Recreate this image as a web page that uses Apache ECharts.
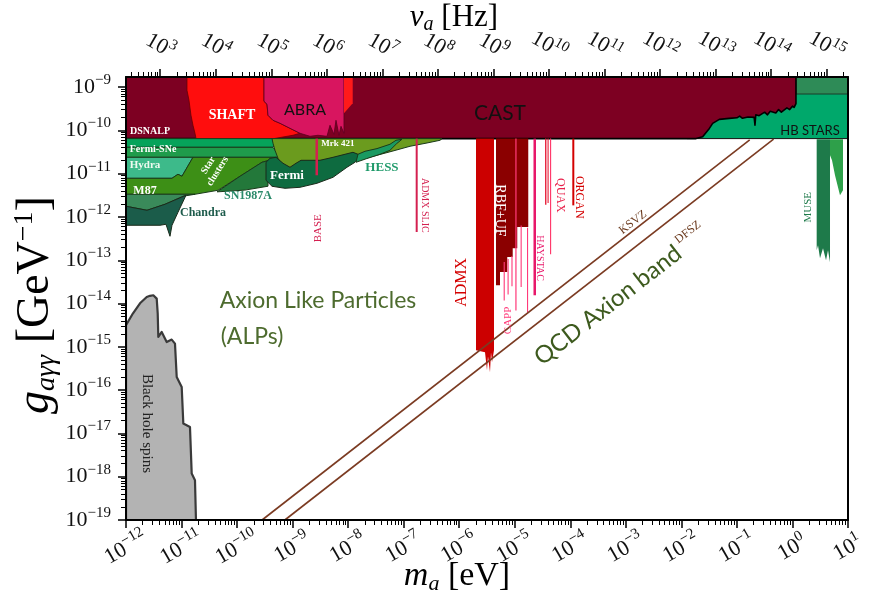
<!DOCTYPE html>
<html>
<head>
<meta charset="utf-8">
<script src="https://cdn.jsdelivr.net/npm/echarts@6/dist/echarts.min.js"></script>
<style>
html,body{margin:0;padding:0;background:#fff}
#chart{width:871px;height:598px}
</style>
</head>
<body>
<div id="chart"></div>
<script>
// Axion-photon coupling limits vs. axion mass.
// All region outlines are stored as [log10(m_a / eV), log10(g / GeV^-1)] pairs.

const H_EV_S = 4.135667696e-15;          // Planck constant, eV s (nu = m / h)
const SERIF = 'Liberation Serif';
const SANS = 'Lato';

// axis ranges (log10)
const massRange = [-12, 1];
const couplingRange = [-19, -8.767];

// tick labels (exponents)
const massTickExp = [-12, -11, -10, -9, -8, -7, -6, -5, -4, -3, -2, -1, 0, 1];
const freqTickExp = [3, 4, 5, 6, 7, 8, 9, 10, 11, 12, 13, 14, 15];
const couplingTickExp = [-19, -18, -17, -16, -15, -14, -13, -12, -11, -10, -9];

// ---- exclusion regions ----
const hbStars = [[-1.9, -8.767], [1, -8.767], [1, -10.19], [-1.9, -10.19]];
const hbStarsUpper = [[0.063, -8.767], [1, -8.767], [1, -9.16], [0.063, -9.16]];
const cast = [[-12, -8.767], [0.063, -8.767], [0.063, -9.38], [0.03, -9.47], [0.0, -9.44], [-0.05, -9.52],
  [-0.1, -9.48], [-0.2, -9.58], [-0.25, -9.52], [-0.3, -9.6], [-0.4, -9.56], [-0.45, -9.64], [-0.5, -9.58],
  [-0.6, -9.66], [-0.66, -9.64], [-0.675, -9.88], [-0.69, -9.7], [-0.8, -9.69], [-0.9, -9.72], [-0.95, -9.67],
  [-1.0, -9.71], [-1.137, -9.723], [-1.317, -9.746], [-1.437, -9.838], [-1.496, -9.954], [-1.617, -10.148],
  [-1.736, -10.19], [-12, -10.19]];
const shaft = [[-10.902, -8.767], [-9.515, -8.767], [-9.515, -9.328], [-9.461, -9.397], [-9.443, -9.651],
  [-9.353, -9.767], [-9.227, -9.836], [-9.047, -9.952], [-8.867, -10.067], [-8.993, -10.113], [-9.407, -10.206],
  [-9.767, -10.252], [-10.127, -10.298], [-10.452, -10.344], [-10.53, -10.2], [-10.578, -10.298],
  [-10.632, -10.367], [-10.668, -10.229], [-10.704, -10.391], [-10.74, -10.183], [-10.758, -10.067],
  [-10.794, -9.882], [-10.83, -9.651], [-10.866, -9.305], [-10.902, -9.074]];
const abra = [[-9.515, -8.767], [-8.075, -8.767], [-8.075, -10.067], [-8.129, -9.906], [-8.165, -10.113],
  [-8.219, -9.767], [-8.255, -10.09], [-8.327, -9.882], [-8.381, -10.137], [-8.543, -10.113], [-8.687, -10.137],
  [-8.867, -10.067], [-9.047, -9.952], [-9.227, -9.836], [-9.353, -9.767], [-9.443, -9.651], [-9.461, -9.397],
  [-9.515, -9.328]];
const abraHigh = [[-8.075, -8.767], [-7.918, -8.767], [-7.918, -9.374], [-8.075, -9.605]];
const fermiSNeTop = [[-12, -10.19], [-9.371, -10.19], [-9.299, -10.298], [-9.353, -10.391], [-12, -10.391]];
const fermiSNe = [[-12, -10.391], [-9.353, -10.391], [-9.227, -10.622], [-12, -10.622]];
const hydra = [[-12, -10.622], [-10.794, -10.622], [-10.992, -11.06], [-11.064, -11.014], [-11.172, -11.107],
  [-12, -11.107]];
const starClusters = [[-12, -11.107], [-11.172, -11.107], [-11.064, -11.014], [-10.992, -11.06],
  [-10.794, -10.622], [-9.227, -10.622], [-9.551, -10.737], [-9.947, -11.06], [-10.344, -11.384],
  [-10.758, -11.476], [-12, -11.476]];
const sn1987a = [[-9.227, -10.622], [-9.443, -10.76], [-9.443, -11.29], [-9.86, -11.38], [-10.36, -11.42],
  [-9.947, -11.06], [-9.551, -10.737]];
const m87Lower = [[-12, -11.476], [-10.758, -11.476], [-10.974, -11.522], [-11.298, -11.707],
  [-11.622, -11.846], [-12, -11.753]];
const chandra = [[-12, -11.753], [-11.622, -11.846], [-11.298, -11.707], [-10.92, -11.499], [-11.064, -11.892],
  [-11.172, -12.192], [-11.208, -12.446], [-11.28, -12.169], [-11.388, -12.192], [-12, -12.192]];
const mrk421 = [[-9.371, -10.19], [-6.31, -10.19], [-6.346, -10.229], [-6.58, -10.291], [-6.886, -10.367],
  [-7.193, -10.476], [-7.481, -10.575], [-7.679, -10.645], [-7.823, -10.691], [-8.057, -10.645],
  [-8.507, -10.737], [-8.867, -10.76], [-8.939, -10.829], [-9.047, -10.922], [-9.173, -10.829],
  [-9.263, -10.645], [-9.317, -10.46], [-9.353, -10.298]];
const fermi = [[-9.479, -10.737], [-9.407, -10.645], [-9.299, -10.622], [-9.173, -10.76], [-9.047, -10.852],
  [-8.939, -10.76], [-8.849, -10.691], [-8.687, -10.691], [-8.507, -10.691], [-8.273, -10.622],
  [-8.057, -10.552], [-7.913, -10.506], [-7.823, -10.552], [-7.787, -10.622], [-7.877, -10.737],
  [-8.021, -10.852], [-8.273, -11.084], [-8.561, -11.222], [-8.867, -11.315], [-9.137, -11.338],
  [-9.371, -11.291], [-9.479, -11.153]];
const hess = [[-7.859, -10.737], [-7.666, -10.652], [-7.427, -10.552], [-7.247, -10.46], [-7.126, -10.305],
  [-7.031, -10.206], [-7.139, -10.229], [-7.247, -10.321], [-7.481, -10.421], [-7.697, -10.483],
  [-7.823, -10.552]];
const blackHoleSpins = [[-12, -19], [-12, -14.502], [-11.874, -14.225], [-11.748, -13.994], [-11.627, -13.849],
  [-11.568, -13.821], [-11.508, -13.809], [-11.447, -13.886], [-11.429, -14.232], [-11.418, -14.773],
  [-11.357, -14.657], [-11.267, -14.888], [-11.177, -14.833], [-11.118, -14.925], [-11.087, -15.697],
  [-10.997, -15.928], [-10.968, -16.773], [-10.848, -16.852], [-10.817, -17.928], [-10.758, -18.083],
  [-10.74, -19]];
const admx = [[-5.698, -10.19], [-5.374, -10.19], [-5.374, -15.08], [-5.41, -15.357], [-5.428, -15.126],
  [-5.446, -15.588], [-5.482, -15.218], [-5.5, -15.542], [-5.536, -15.126], [-5.698, -15.08]];
const rbfUf = [[-5.338, -10.19], [-4.757, -10.19], [-4.757, -12.232], [-4.955, -12.232], [-4.955, -12.724],
  [-5.037, -12.724], [-5.037, -12.925], [-5.135, -12.925], [-5.135, -13.271], [-5.266, -13.271],
  [-5.266, -13.578], [-5.338, -13.578]];
const museDeep = [[0.436, -10.206], [0.676, -10.206], [0.676, -13.047], [0.64, -12.77], [0.604, -13.0],
  [0.55, -12.724], [0.496, -12.955], [0.46, -12.654], [0.436, -12.77]];
const museShallow = [[0.676, -10.206], [0.91, -10.206], [0.91, -11.384], [0.856, -11.499], [0.766, -11.037],
  [0.712, -10.691], [0.676, -10.575]];

// narrow haloscope strips: [log m lo, log m hi, log g top, log g bottom]
const baseStrip = [-8.588, -8.543, -10.19, -11.037];
const admxSlicStrip = [-6.784, -6.748, -10.19, -12.347];
const cappStrips = [
  [-5.2, -5.18, -13.04, -13.93],
  [-5.13, -5.11, -12.97, -13.79],
  [-5.06, -5.04, -12.9, -13.6],
  [-4.99, -4.968, -10.19, -14.16],
  [-4.895, -4.875, -12.2, -13.62],
  [-4.78, -4.76, -12.25, -14.2]
];
const haystacStrip = [-4.663, -4.618, -10.19, -13.809];
const quaxStrips = [[-4.455, -4.43, -10.19, -11.72], [-4.41, -4.39, -10.19, -11.68], [-4.365, -4.345, -10.19, -12.86]];
const organStrip = [-3.964, -3.928, -10.19, -11.732];

// QCD axion band edges
const ksvzLine = [[-9.55, -19], [-0.77, -10.22]];
const dfszLine = [[-9.14, -19], [-0.34, -10.2]];

// region and experiment names: [text, log m, log g]
const regionLabels = [
  ['DSNALP', -11.568, -10.02], ['SHAFT', -10.091, -9.651], ['ABRA', -8.777, -9.536], ['CAST', -5.266, -9.605],
  ['HB STARS', 0.315, -10.02], ['Fermi-SNe', -11.514, -10.437], ['Hydra', -11.658, -10.806],
  ['M87', -11.658, -11.40], ['Chandra', -10.614, -11.915], ['Star\nclusters', -10.434, -10.876],
  ['SN1987A', -9.803, -11.522], ['Fermi', -9.101, -11.037], ['Mrk 421', -8.183, -10.30],
  ['HESS', -7.391, -10.853], ['BASE', -8.543, -12.262], ['ADMX SLIC', -6.616, -11.73],
  ['ADMX', -5.95, -13.51], ['RBF+UF', -5.266, -11.85], ['CAPP', -5.122, -14.39], ['HAYSTAC', -4.546, -12.95],
  ['QUAX', -4.186, -11.50], ['ORGAN', -3.844, -11.545], ['MUSE', 0.279, -11.776], ['KSVZ', -2.872, -12.123],
  ['DFSZ', -1.881, -12.354], ['QCD Axion band', -3.322, -14.04], ['Axion Like Particles', -8.543, -13.93],
  ['(ALPs)', -9.731, -14.76], ['Black hole spins', -11.622, -16.77]
];

const labelStyles = {
  'DSNALP': {c: '#fff', s: 10, f: SERIF, w: 'bold'},
  'SHAFT': {c: '#fff', s: 14, f: SERIF, w: 'bold'},
  'ABRA': {c: '#111', s: 16, f: SANS},
  'CAST': {c: '#111', s: 21, f: SANS},
  'HB STARS': {c: '#111', s: 13, f: SANS},
  'Fermi-SNe': {c: '#fff', s: 10, f: SERIF, w: 'bold'},
  'Hydra': {c: '#eefaf0', s: 11, f: SERIF, w: 'bold'},
  'M87': {c: '#fff', s: 12, f: SERIF, w: 'bold'},
  'Chandra': {c: '#1d5b4b', s: 12, f: SERIF, w: 'bold'},
  'Star\nclusters': {c: '#fff', s: 10, f: SERIF, w: 'bold', r: 58},
  'SN1987A': {c: '#2a8a6a', s: 12, f: SERIF, w: 'bold'},
  'Fermi': {c: '#fff', s: 13, f: SERIF, w: 'bold'},
  'Mrk 421': {c: '#fff', s: 9, f: SERIF, w: 'bold'},
  'HESS': {c: '#1f9a6a', s: 13, f: SERIF, w: 'bold'},
  'BASE': {c: '#d42050', s: 11, f: SERIF, r: 90},
  'ADMX SLIC': {c: '#d42050', s: 10, f: SERIF, r: -90},
  'ADMX': {c: '#d40000', s: 16, f: SERIF, r: 90},
  'RBF+UF': {c: '#fff', s: 14, f: SERIF, r: -90},
  'CAPP': {c: '#ff3a7a', s: 11, f: SERIF, r: 90},
  'HAYSTAC': {c: '#e8186a', s: 10, f: SERIF, r: -90},
  'QUAX': {c: '#e8204a', s: 12, f: SERIF, r: -90},
  'ORGAN': {c: '#d40000', s: 12, f: SERIF, r: -90},
  'MUSE': {c: '#1e7a4a', s: 11, f: SERIF, r: 90},
  'KSVZ': {c: '#6b3a1e', s: 12, f: SERIF, r: 37.9},
  'DFSZ': {c: '#6b3a1e', s: 12, f: SERIF, r: 37.9},
  'QCD Axion band': {c: '#3d5a1e', s: 24, f: SANS, r: 37.9},
  'Axion Like Particles': {c: '#4d6b2e', s: 23, f: SANS},
  '(ALPs)': {c: '#4d6b2e', s: 23, f: SANS},
  'Black hole spins': {c: '#222', s: 15, f: SERIF, r: -90}
};

const pow10 = e => Math.pow(10, e);
const toValues = pts => pts.map(([a, b]) => [pow10(a), pow10(b)]);
const stripPolygon = ([x0, x1, yt, yb]) => [[x0, yt], [x1, yt], [x1, yb], [x0, yb]];

function regionSeries(pts, fill, stroke, lineWidth) {
  const data = toValues(pts);
  return {
    type: 'custom', xAxisIndex: 0, yAxisIndex: 0, silent: true, clip: true, animation: false,
    data: data,
    renderItem(params, api) {
      if (params.dataIndex !== 0) return null;
      return {
        type: 'polygon',
        shape: {points: data.map(p => api.coord(p))},
        style: {fill: fill, stroke: stroke || null, lineWidth: lineWidth || 0, lineJoin: 'round'}
      };
    }
  };
}

function minorValues(lo, hi) {
  const out = [];
  for (let e = Math.floor(lo) - 1; e <= Math.ceil(hi); e++) {
    for (let k = 2; k <= 9; k++) {
      const v = k * pow10(e);
      if (Math.log10(v) > lo && Math.log10(v) < hi) out.push(v);
    }
  }
  return out;
}

const supLabel = v => {
  const e = Math.round(Math.log10(v));
  return '{b|10}{e|' + (e < 0 ? '\u2212' + (-e) : e) + '}';
};
const tickRich = {
  b: {fontFamily: SERIF, fontSize: 22, lineHeight: 29, color: '#111'},
  e: {fontFamily: SERIF, fontSize: 15, lineHeight: 13, verticalAlign: 'top', color: '#111'}
};
const tickLabelBase = {fontFamily: SERIF, fontSize: 22, color: '#111', formatter: supLabel, rich: tickRich};

const logFreqLo = massRange[0] - Math.log10(H_EV_S);
const logFreqHi = massRange[1] - Math.log10(H_EV_S);

function majorAxis(extra) {
  return Object.assign({
    type: 'log', logBase: 10, z: 10, splitLine: {show: false},
    axisLine: {show: true, onZero: false, lineStyle: {color: '#000', width: 2}}
  }, extra);
}
function minorAxis(extra) {
  return Object.assign({
    type: 'log', logBase: 10, z: 10, splitLine: {show: false},
    axisLine: {show: false}, axisLabel: {show: false}
  }, extra);
}

const massMajors = massTickExp.map(pow10);
const freqMajors = freqTickExp.map(pow10);
const gMajors = couplingTickExp.map(pow10);

const series = [
  regionSeries(hbStars, '#00a86b', '#111', 1),
  regionSeries(hbStarsUpper, '#2e8b57', '#1a3a2a', 1),
  regionSeries(cast, '#7d0022', '#000', 1.6),
  regionSeries(shaft, '#ff0d0d', '#6a0000', 0.8),
  regionSeries(abra, '#d8155f', '#5a0020', 0.8),
  regionSeries(abraHigh, '#ff1a1a', null, 0),
  regionSeries(fermiSNeTop, '#06a35a', '#1a3a1a', 1),
  regionSeries(fermiSNe, '#1f9b4b', '#1a3a1a', 1),
  regionSeries(hydra, '#3dba8a', '#1a3a1a', 1),
  regionSeries(starClusters, '#3d8f16', '#1a3a1a', 1),
  regionSeries(sn1987a, '#23783a', '#1a3a1a', 1),
  regionSeries(m87Lower, '#3a8a5a', '#1a3a1a', 1),
  regionSeries(chandra, '#1b5c4a', '#1a2a1a', 1),
  regionSeries(mrk421, '#6b9b1e', '#1a3a1a', 1),
  regionSeries(fermi, '#0e6b40', '#1a2a1a', 1),
  regionSeries(hess, '#1a9a62', '#1a3a1a', 1),
  regionSeries(blackHoleSpins, '#b3b3b3', '#3a3a3a', 2.2),
  regionSeries(stripPolygon(baseStrip), '#d42050'),
  regionSeries(stripPolygon(admxSlicStrip), '#d42050'),
  regionSeries(admx, '#cc0000'),
  regionSeries(rbfUf, '#8b0000')
].concat(
  cappStrips.map(s => regionSeries(stripPolygon(s), '#ff3a7a')),
  [regionSeries(stripPolygon(haystacStrip), '#e8186a')],
  quaxStrips.map((s, i) => regionSeries(stripPolygon(s), i === 2 ? '#ff3366' : '#e8203a')),
  [regionSeries(stripPolygon(organStrip), '#d40000'),
   regionSeries(museDeep, '#1e7a4a'),
   regionSeries(museShallow, '#2ea04a')]
);

[ksvzLine, dfszLine].forEach(line => {
  series.push({
    type: 'line', xAxisIndex: 0, yAxisIndex: 0, data: toValues(line), symbol: 'none', silent: true,
    animation: false, z: 5, lineStyle: {color: '#7b3b22', width: 1.6}
  });
});

series.push({
  type: 'custom', xAxisIndex: 0, yAxisIndex: 0, silent: true, clip: false, animation: false, z: 20,
  data: regionLabels.map(l => [pow10(l[1]), pow10(l[2])]),
  renderItem(params, api) {
    const name = regionLabels[params.dataIndex][0];
    const st = labelStyles[name];
    const p = api.coord([api.value(0), api.value(1)]);
    return {
      type: 'text', x: p[0], y: p[1], rotation: (st.r || 0) * Math.PI / 180,
      style: {
        text: name, fill: st.c, fontSize: st.s, fontFamily: st.f, fontWeight: st.w || 'normal',
        align: 'center', verticalAlign: 'middle', lineHeight: st.s + 1
      }
    };
  }
});

const chart = echarts.init(document.getElementById('chart'), null, {renderer: 'canvas'});
chart.setOption({
  animation: false,
  backgroundColor: '#fff',
  grid: {left: 126, right: 23, top: 77, bottom: 78, show: false},
  xAxis: [
    majorAxis({position: 'bottom', min: pow10(massRange[0]), max: pow10(massRange[1]),
      axisTick: {show: true, inside: false, length: 8, customValues: massMajors, lineStyle: {color: '#000', width: 1.5}},
      axisLabel: Object.assign({customValues: massMajors, rotate: 30, align: 'center', verticalAlign: 'middle',
        margin: 28}, tickLabelBase)}),
    minorAxis({position: 'bottom', min: pow10(massRange[0]), max: pow10(massRange[1]),
      axisTick: {show: true, inside: false, length: 5, customValues: minorValues(massRange[0], massRange[1]),
        lineStyle: {color: '#000', width: 1}}}),
    majorAxis({position: 'top', min: pow10(logFreqLo), max: pow10(logFreqHi),
      axisTick: {show: true, inside: false, length: 8, customValues: freqMajors, lineStyle: {color: '#000', width: 1.5}},
      axisLabel: Object.assign({customValues: freqMajors, rotate: 30, align: 'center', verticalAlign: 'middle',
        margin: 31}, tickLabelBase)}),
    minorAxis({position: 'top', min: pow10(logFreqLo), max: pow10(logFreqHi),
      axisTick: {show: true, inside: false, length: 5, customValues: minorValues(logFreqLo, logFreqHi),
        lineStyle: {color: '#000', width: 1}}})
  ],
  yAxis: [
    majorAxis({position: 'left', min: pow10(couplingRange[0]), max: pow10(couplingRange[1]),
      axisTick: {show: true, inside: false, length: 8, customValues: gMajors, lineStyle: {color: '#000', width: 1.5}},
      axisLabel: Object.assign({customValues: gMajors, margin: 15}, tickLabelBase)}),
    minorAxis({position: 'left', min: pow10(couplingRange[0]), max: pow10(couplingRange[1]),
      axisTick: {show: true, inside: false, length: 5, customValues: minorValues(couplingRange[0], couplingRange[1]),
        lineStyle: {color: '#000', width: 1}}}),
    majorAxis({position: 'right', min: pow10(couplingRange[0]), max: pow10(couplingRange[1]),
      axisTick: {show: false}, axisLabel: {show: false}})
  ],
  graphic: [
    {type: 'text', x: 454, y: 18, z: 30, style: {
      text: '{i|\u03bd}{s|a}{n| [Hz]}', align: 'center', verticalAlign: 'middle',
      rich: {i: {fontFamily: SERIF, fontStyle: 'italic', fontSize: 31, lineHeight: 34},
             s: {fontFamily: SERIF, fontStyle: 'italic', fontSize: 20, lineHeight: 19, verticalAlign: 'bottom'},
             n: {fontFamily: SERIF, fontSize: 31, lineHeight: 34}}}},
    {type: 'text', x: 457, y: 576, z: 30, style: {
      text: '{i|m}{s|a}{n| [eV]}', align: 'center', verticalAlign: 'middle',
      rich: {i: {fontFamily: SERIF, fontStyle: 'italic', fontSize: 34, lineHeight: 38},
             s: {fontFamily: SERIF, fontStyle: 'italic', fontSize: 22, lineHeight: 21, verticalAlign: 'bottom'},
             n: {fontFamily: SERIF, fontSize: 34, lineHeight: 38}}}},
    {type: 'text', x: 36, y: 305, z: 30, rotation: Math.PI / 2, style: {
      text: '{i|g}{s|a\u03b3\u03b3}{n| [GeV}{e|\u22121}{n|]}', align: 'center', verticalAlign: 'middle',
      rich: {i: {fontFamily: SERIF, fontStyle: 'italic', fontSize: 46, lineHeight: 50},
             s: {fontFamily: SERIF, fontStyle: 'italic', fontSize: 28, lineHeight: 26, verticalAlign: 'bottom'},
             n: {fontFamily: SERIF, fontSize: 46, lineHeight: 50},
             e: {fontFamily: SERIF, fontSize: 28, lineHeight: 24, verticalAlign: 'top'}}}}
  ],
  series: series
});
</script>
</body>
</html>
